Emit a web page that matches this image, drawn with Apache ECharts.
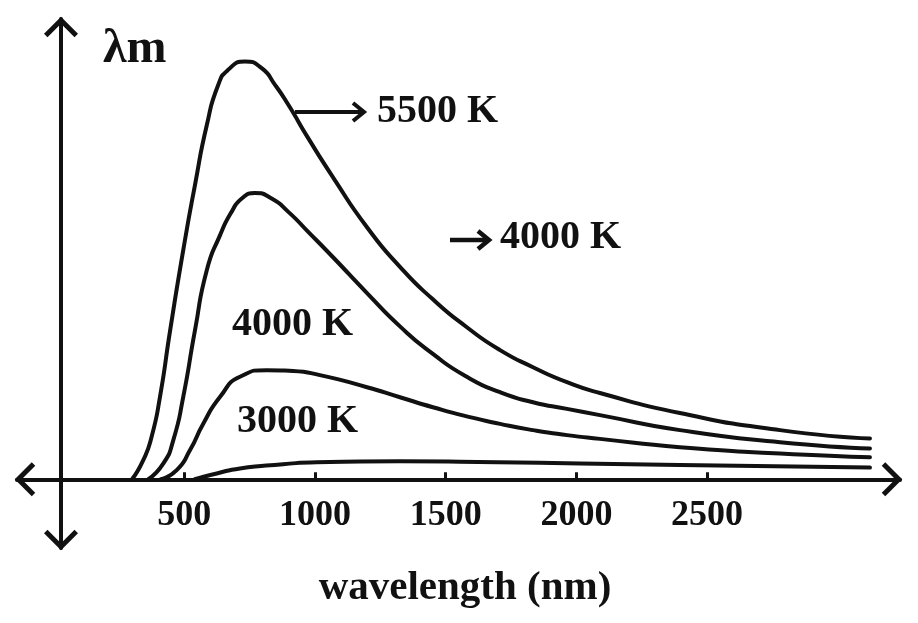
<!DOCTYPE html>
<html>
<head>
<meta charset="utf-8">
<script src="https://cdn.jsdelivr.net/npm/echarts@6/dist/echarts.min.js"></script>
<style>
  html, body { margin: 0; padding: 0; background: #fff; }
  #chart { width: 918px; height: 623px; }
</style>
</head>
<body>
<div id="chart"></div>
<script>
// wavelength (nm) / relative intensity
const curve5500 = [[300, 0], [343, 4.6], [375, 10.2], [407, 19.8], [446, 35.8], [496, 55.0], [541, 70.7], [586, 85.0], [630, 94.7], [668, 98.3], [732, 100.3], [796, 98.7], [847, 94.7], [898, 89.9], [974, 81.9], [1069, 72.5], [1199, 60.5], [1325, 51.0], [1451, 43.2], [1581, 36.5], [1708, 31.0], [1834, 26.9], [1964, 23.3], [2090, 20.7], [2396, 15.9], [2779, 11.8], [3123, 9.8]];
const curve4000a = [[362, 0], [420, 3.8], [458, 9.4], [496, 19.8], [541, 35.8], [586, 50.2], [636, 58.5], [681, 64.2], [720, 67.4], [770, 68.7], [834, 67.4], [898, 64.2], [974, 59.4], [1069, 53.3], [1199, 44.7], [1325, 36.7], [1451, 30.1], [1581, 24.6], [1708, 20.9], [1834, 18.5], [1964, 16.9], [2090, 15.4], [2396, 11.8], [2779, 8.9], [3123, 7.4]];
const curve4000b = [[410, 0], [471, 2.2], [522, 7.0], [573, 13.4], [637, 19.8], [713, 24.6], [815, 26.2], [916, 26.0], [1019, 25.0], [1199, 22.1], [1325, 19.7], [1451, 17.3], [1581, 15.1], [1708, 13.3], [1834, 11.8], [1964, 10.6], [2090, 9.7], [2396, 7.7], [2779, 6.2], [3123, 5.3]];
const curve3000 = [[540, 0], [624, 1.4], [713, 2.6], [878, 3.6], [1006, 4.1], [1325, 4.3], [1700, 4.1], [2015, 3.8], [2396, 3.4], [3123, 2.8]];
const tickValues = [500, 1000, 1500, 2000, 2500];

const serif = '"Liberation Serif", "DejaVu Serif", serif';
const ink = '#111';
// open chevron pointing up, used for the axis ends
const chevron = 'path://M17 0 L34 17 L30.5 20.5 L17 7 L3.5 20.5 L0 17 Z';

const myChart = echarts.init(document.getElementById('chart'));

const lineSeries = (data) => ({
    type: 'line',
    data: data,
    smooth: 0.6,
    showSymbol: false,
    symbol: 'none',
    clip: false,
    lineStyle: { color: ink, width: 4, cap: 'round', join: 'round' },
    silent: true
});

const option = {
    animation: false,
    backgroundColor: '#fff',
    grid: { left: 17, right: 18, top: 19, bottom: 75, containLabel: false, outerBoundsMode: 'none' },
    xAxis: {
        type: 'value',
        min: -140,
        max: 3238,
        name: 'wavelength (nm)',
        nameLocation: 'middle',
        nameGap: 20,
        nameTextStyle: {
            fontFamily: serif, fontWeight: 'bold', fontSize: 41, color: ink,
            padding: [0, 0, 0, 13]
        },
        axisLine: {
            onZero: true,
            symbol: [chevron, chevron],
            symbolSize: [34, 20.5],
            symbolOffset: [8, -8],
            lineStyle: { color: ink, width: 4 }
        },
        axisTick: {
            show: true, inside: true, length: 7,
            customValues: tickValues,
            lineStyle: { color: ink, width: 3 }
        },
        axisLabel: {
            customValues: tickValues,
            formatter: (v) => String(v),
            margin: -50,
            fontFamily: serif, fontWeight: 'bold', fontSize: 36, color: ink
        },
        splitLine: { show: false }
    },
    yAxis: {
        type: 'value',
        min: -16.5,
        max: 110.5,
        offset: -44,
        axisLine: {
            show: true,
            onZero: false,
            symbol: [chevron, chevron],
            symbolSize: [34, 20.5],
            symbolOffset: [8, -8],
            lineStyle: { color: ink, width: 4 }
        },
        axisTick: { show: false },
        axisLabel: { show: false },
        splitLine: { show: false }
    },
    series: [
        lineSeries(curve5500),
        lineSeries(curve4000a),
        lineSeries(curve4000b),
        lineSeries(curve3000)
    ],
    graphic: [
        { type: 'text', x: 103, y: 50, style: { text: 'λm', fontFamily: serif, fontWeight: 'bold', fontSize: 48, fill: ink, verticalAlign: 'middle' } },
        { type: 'text', x: 377, y: 112, style: { text: '5500 K', fontFamily: serif, fontWeight: 'bold', fontSize: 40, fill: ink, verticalAlign: 'middle' } },
        { type: 'text', x: 500, y: 238, style: { text: '4000 K', fontFamily: serif, fontWeight: 'bold', fontSize: 40, fill: ink, verticalAlign: 'middle' } },
        { type: 'text', x: 232, y: 325, style: { text: '4000 K', fontFamily: serif, fontWeight: 'bold', fontSize: 40, fill: ink, verticalAlign: 'middle' } },
        { type: 'text', x: 237, y: 422, style: { text: '3000 K', fontFamily: serif, fontWeight: 'bold', fontSize: 40, fill: ink, verticalAlign: 'middle' } },
        // pointer arrows next to the labels
        { type: 'line', shape: { x1: 295, y1: 112, x2: 364, y2: 112 }, style: { stroke: ink, lineWidth: 4 } },
        { type: 'polyline', shape: { points: [[353, 103], [364, 112], [353, 121]] }, style: { stroke: ink, lineWidth: 4, fill: null } },
        { type: 'line', shape: { x1: 450, y1: 240, x2: 489, y2: 240 }, style: { stroke: ink, lineWidth: 4.5 } },
        { type: 'polyline', shape: { points: [[478, 231], [489, 240], [478, 249]] }, style: { stroke: ink, lineWidth: 4.5, fill: null } }
    ]
};

option && myChart.setOption(option);
</script>
</body>
</html>
